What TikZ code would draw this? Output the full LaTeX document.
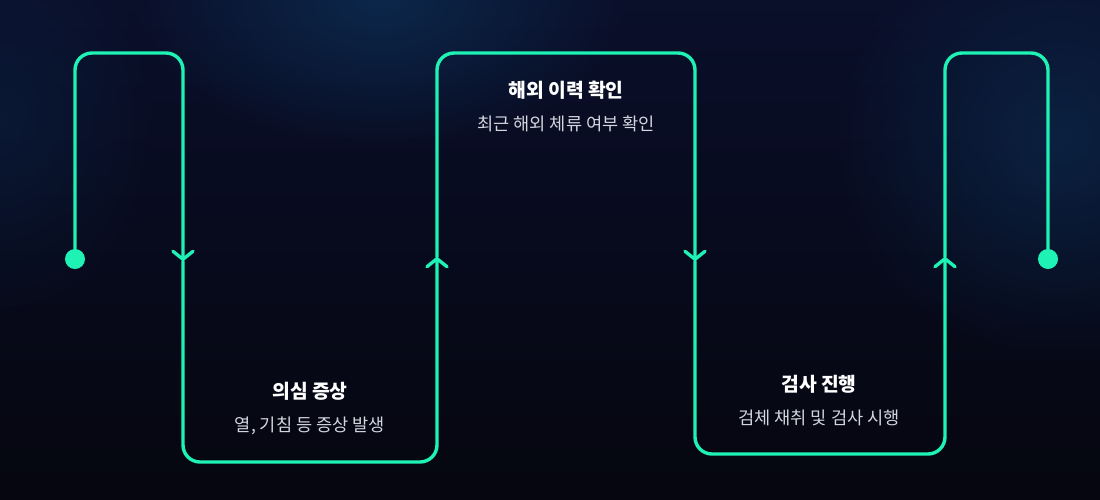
\documentclass[tikz,border=0pt]{standalone}
\usepackage{fontspec}
\setmainfont{Noto Sans CJK KR}
\usetikzlibrary{arrows.meta,positioning,fadings}

\definecolor{bgtop}{HTML}{0A0F2A}
\definecolor{bgbot}{HTML}{05060F}
\definecolor{glowblue}{HTML}{0C2A4E}
\definecolor{mint}{HTML}{1EF2B5}
\definecolor{subgray}{HTML}{D2D6DE}

\tikzfading[name=glowfade, inner color=transparent!0, outer color=transparent!100]

\begin{document}
\begin{tikzpicture}[
  x=1pt, y=-1pt,
  node distance=16pt,
  wave/.style={draw=mint, line width=3.4pt, rounded corners=17pt, line cap=round},
  mid/.style={-{Straight Barb[length=8pt, width=20pt, line cap=round, round]}},
  dotend/.style={circle, fill=mint, inner sep=0pt, minimum size=20pt},
  title/.style={font=\bfseries\fontsize{19.3}{22}\selectfont, text=white, inner sep=0pt},
  desc/.style={font=\fontsize{17.6}{20}\selectfont, text=subgray, inner sep=0pt},
]
  % background
  \useasboundingbox (0,0) rectangle (1100,499);
  \shade[top color=bgtop, bottom color=bgbot] (0,0) rectangle (1100,499);
  \fill[glowblue, path fading=glowfade, opacity=0.9] (380,0) ellipse (250pt and 150pt);
  \fill[glowblue, path fading=glowfade, opacity=0.7] (1060,140) ellipse (230pt and 220pt);
  \fill[glowblue, path fading=glowfade, opacity=0.4] (0,120) ellipse (160pt and 200pt);

  % end points
  \node[dotend] (start) at (75,259) {};
  \node[dotend] (stop) at (1048,259) {};

  % midpoints of the vertical runs
  \coordinate (m1) at (183,261);
  \coordinate (m2) at (437,257);
  \coordinate (m3) at (695,261);
  \coordinate (m4) at (945,257);

  \draw[wave, mid] (start.center) |- (183,53) -- (m1);
  \draw[wave, mid] (m1) -- (183,462) -| (m2);
  \draw[wave, mid] (m2) -- (437,53) -| (m3);
  \draw[wave, mid] (m3) -- (695,454) -| (m4);
  \draw[wave] (m4) -- (945,53) -| (stop.center);

  % labels
  \node[title] (t1) at (310,391) {의심 증상};
  \node[desc, below=of t1] (d1) {열, 기침 등 증상 발생};
  \node[title] (t2) at (566,90) {해외 이력 확인};
  \node[desc, below=of t2] (d2) {최근 해외 체류 여부 확인};
  \node[title] (t3) at (819,384) {검사 진행};
  \node[desc, below=of t3] (d3) {검체 채취 및 검사 시행};
\end{tikzpicture}
\end{document}
